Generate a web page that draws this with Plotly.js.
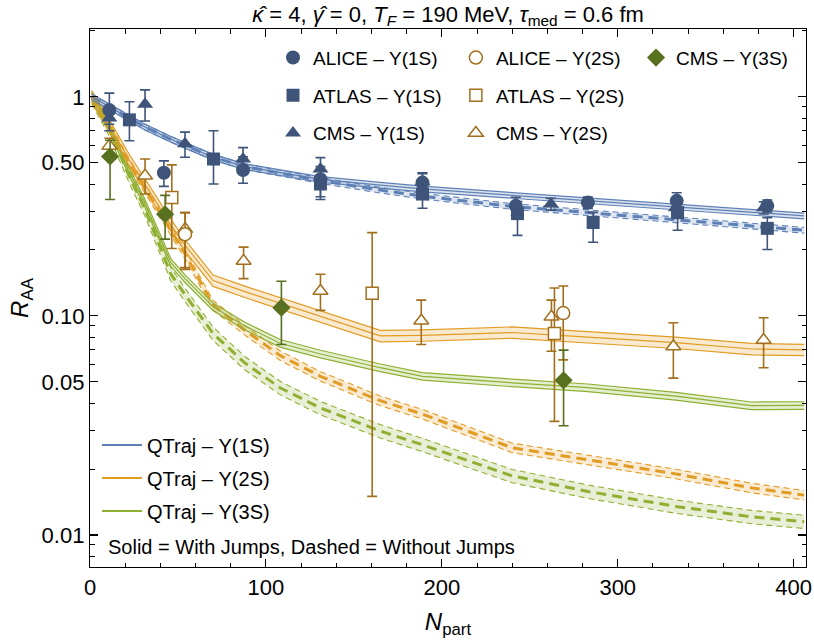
<!DOCTYPE html>
<html><head><meta charset="utf-8">
<script src="https://cdn.plot.ly/plotly-3.0.1.min.js"></script>
<style>html,body{margin:0;padding:0;background:#fff}#plot{width:814px;height:642px}</style>
</head><body><div id="plot"></div>
<script>
// ---------- theory curves (QTraj), shared N_part nodes ----------
const nPart = [1, 11, 22, 31, 46, 54, 70, 88, 108, 131, 165, 189, 240, 283, 333, 376, 406];
const qt1S_jump   = [1.0, 0.90, 0.80, 0.73, 0.64, 0.60, 0.53, 0.48, 0.45, 0.42, 0.395, 0.38, 0.355, 0.335, 0.315, 0.297, 0.286];
const qt1S_nojump = [1.0, 0.90, 0.80, 0.73, 0.64, 0.60, 0.53, 0.48, 0.45, 0.415, 0.375, 0.352, 0.316, 0.296, 0.274, 0.257, 0.246];
const qt2S_jump   = [1.0, 0.74, 0.52, 0.40, 0.26, 0.21, 0.145, 0.129, 0.1145, 0.0995, 0.081, 0.0815, 0.084, 0.080, 0.0755, 0.0706, 0.070];
const qt2S_nojump = [1.0, 0.73, 0.50, 0.385, 0.245, 0.192, 0.112, 0.086, 0.066, 0.053, 0.041, 0.0356, 0.025, 0.022, 0.019, 0.0164, 0.0152];
const qt3S_jump   = [1.0, 0.72, 0.46, 0.33, 0.175, 0.148, 0.110, 0.090, 0.075, 0.067, 0.058, 0.053, 0.0495, 0.047, 0.043, 0.0389, 0.039];
const qt3S_nojump = [1.0, 0.71, 0.44, 0.31, 0.155, 0.125, 0.083, 0.061, 0.047, 0.038, 0.0298, 0.0258, 0.0186, 0.0158, 0.0135, 0.0121, 0.0115];
// relative half-width of each uncertainty band
const bandHalfWidth = {b1j: 0.03, b1n: 0.03, b2j: 0.06, b2n: 0.05, b3j: 0.04, b3n: 0.07};

// ---------- experimental data ----------
const aliceY1S_x = [11, 42, 87, 131, 189, 242, 283, 333.5, 385];
const aliceY1S_y = [0.87, 0.45, 0.463, 0.42, 0.406, 0.318, 0.329, 0.335, 0.318];
const aliceY1S_up = [0.17, 0.06, 0.07, 0.06, 0.04, 0.03, 0.02, 0.03, 0.02];
const aliceY1S_dn = [0.12, 0.06, 0.06, 0.07, 0.05, 0.03, 0.02, 0.03, 0.02];

const atlasY1S_x = [22.4, 70.2, 131, 189, 243, 286, 334, 385];
const atlasY1S_y = [0.785, 0.52, 0.40, 0.36, 0.293, 0.267, 0.296, 0.251];
const atlasY1S_up = [0.165, 0.18, 0.04, 0.05, 0.04, 0.03, 0.03, 0.03];
const atlasY1S_dn = [0.155, 0.12, 0.06, 0.05, 0.06, 0.05, 0.05, 0.05];

const cmsY1S_x = [11, 31.3, 54, 87, 131, 189, 262, 333, 383];
const cmsY1S_y = [0.80, 0.926, 0.61, 0.52, 0.468, 0.41, 0.324, 0.312, 0.312];
const cmsY1S_up = [0.08, 0.15, 0.08, 0.066, 0.06, 0.04, 0.02, 0.02, 0.02];
const cmsY1S_dn = [0.10, 0.15, 0.08, 0.06, 0.05, 0.04, 0.02, 0.02, 0.02];

const aliceY2S_x = [54, 269];
const aliceY2S_y = [0.236, 0.103];
const aliceY2S_up = [0.06, 0.034];
const aliceY2S_dn = [0.07, 0.04];

const atlasY2S_x = [46.5, 160.4, 264];
const atlasY2S_y = [0.347, 0.127, 0.083];
const atlasY2S_up = [0.142, 0.113, 0.051];
const atlasY2S_dn = [0.144, 0.112, 0.05];

const cmsY2S_x = [11, 31.3, 54.1, 87.3, 131, 188.3, 262.3, 331.6, 382.9];
const cmsY2S_y = [0.597, 0.436, 0.249, 0.178, 0.130, 0.095, 0.099, 0.0725, 0.0776];
const cmsY2S_up = [0.05, 0.084, 0.047, 0.028, 0.025, 0.023, 0.019, 0.0205, 0.0204];
const cmsY2S_dn = [0.05, 0.076, 0.086, 0.03, 0.024, 0.021, 0.03, 0.0205, 0.0196];

const cmsY3S_x = [11.4, 42.7, 108.8, 269.2];
const cmsY3S_y = [0.534, 0.291, 0.109, 0.0508];
const cmsY3S_up = [0.1, 0.064, 0.035, 0.019];
const cmsY3S_dn = [0.194, 0.067, 0.035, 0.0193];

// ---------- axis ticks ----------
const xTicks = [0, 100, 200, 300, 400];
const yTicks = [0.01, 0.05, 0.1, 0.5, 1];
const yTickText = ['0.01', '0.05', '0.10', '0.50', '1'];
const yMinor = [0.007, 0.008, 0.009, 0.02, 0.03, 0.04, 0.06, 0.07, 0.08, 0.09, 0.2, 0.3, 0.4, 0.6, 0.7, 0.8, 0.9, 2];

// ---------- styles ----------
const C = {
  blue: '#5E81B5', orange: '#E19C24', green: '#8FB032',
  dBlue: '#3E5479', dOrange: '#A26F1C', dGreen: '#58701F'
};
const FONT = 'Liberation Sans, Arial, sans-serif';

const traces = [];
function band(y, w, color, fill, dashed) {
  const lo = y.map(v => v * (1 - w));
  const hi = y.map(v => v * (1 + w));
  const edge = dashed ? {color, width: 1.1, dash: '6px,4px'} : {color, width: 1.2};
  traces.push({x: nPart, y: lo, mode: 'lines', line: edge, showlegend: false, hoverinfo: 'skip'});
  traces.push({x: nPart, y: hi, mode: 'lines', line: edge, fill: 'tonexty', fillcolor: fill, showlegend: false, hoverinfo: 'skip'});
  traces.push({x: nPart, y: y, mode: 'lines',
    line: dashed ? {color, width: 3, dash: '10px,6px'} : {color, width: 1.2},
    showlegend: false, hoverinfo: 'skip'});
}
band(qt3S_nojump, bandHalfWidth.b3n, C.green, 'rgba(143,176,50,0.2)', true);
band(qt2S_nojump, bandHalfWidth.b2n, C.orange, 'rgba(225,156,36,0.2)', true);
band(qt1S_nojump, bandHalfWidth.b1n, C.blue, 'rgba(94,129,181,0.2)', true);
band(qt3S_jump, bandHalfWidth.b3j, C.green, 'rgba(143,176,50,0.22)', false);
band(qt2S_jump, bandHalfWidth.b2j, C.orange, 'rgba(225,156,36,0.22)', false);
band(qt1S_jump, bandHalfWidth.b1j, C.blue, 'rgba(94,129,181,0.22)', false);

function data(name, x, y, up, dn, symbol, fillColor, lineColor, size, legend, group, rank) {
  traces.push({
    x, y, name, mode: 'markers', legend, legendgroup: group, legendrank: rank,
    marker: {symbol, size, color: fillColor, line: {color: lineColor, width: fillColor === 'white' ? 1.5 : 0}},
    error_y: {type: 'data', symmetric: false, array: up, arrayminus: dn, color: lineColor, thickness: 1.6, width: 5},
    hoverinfo: 'x+y'
  });
}
data('CMS – Υ(2S)', cmsY2S_x, cmsY2S_y, cmsY2S_up, cmsY2S_dn, 'triangle-up', 'white', C.dOrange, 13, 'legend2', 'g6', 3);
data('ATLAS – Υ(2S)', atlasY2S_x, atlasY2S_y, atlasY2S_up, atlasY2S_dn, 'square', 'white', C.dOrange, 12, 'legend2', 'g5', 2);
data('ALICE – Υ(2S)', aliceY2S_x, aliceY2S_y, aliceY2S_up, aliceY2S_dn, 'circle', 'white', C.dOrange, 13, 'legend2', 'g4', 1);
data('CMS – Υ(3S)', cmsY3S_x, cmsY3S_y, cmsY3S_up, cmsY3S_dn, 'diamond', C.dGreen, C.dGreen, 14, 'legend3', 'g7', 1);
data('CMS – Υ(1S)', cmsY1S_x, cmsY1S_y, cmsY1S_up, cmsY1S_dn, 'triangle-up', C.dBlue, C.dBlue, 14, 'legend', 'g3', 3);
data('ATLAS – Υ(1S)', atlasY1S_x, atlasY1S_y, atlasY1S_up, atlasY1S_dn, 'square', C.dBlue, C.dBlue, 13, 'legend', 'g2', 2);
data('ALICE – Υ(1S)', aliceY1S_x, aliceY1S_y, aliceY1S_up, aliceY1S_dn, 'circle', C.dBlue, C.dBlue, 14, 'legend', 'g1', 1);

// legend entries for the theory curves
[['QTraj – Υ(1S)', C.blue, 'q1', 1], ['QTraj – Υ(2S)', C.orange, 'q2', 2], ['QTraj – Υ(3S)', C.green, 'q3', 3]].forEach(([n, c, g, r]) => {
  traces.push({x: [null], y: [null], name: n, mode: 'lines', line: {color: c, width: 2}, legend: 'legend4', legendgroup: g, legendrank: r, showlegend: true});
});

const legendBase = {xanchor: 'left', yanchor: 'top', bgcolor: 'rgba(0,0,0,0)', borderwidth: 0,
  traceorder: 'grouped', font: {family: FONT, size: 19, color: '#000'}, tracegroupgap: 10};

const layout = {
  width: 814, height: 642,
  margin: {l: 90, r: 8, t: 29, b: 75},
  paper_bgcolor: '#fff', plot_bgcolor: '#fff',
  font: {family: FONT, color: '#000'},
  title: {text: '<i>κ̂</i> = 4, <i>γ̂</i> = 0, <i>T</i><sub><i>F</i></sub> = 190 MeV, <i>τ</i><sub>med</sub> = 0.6 fm',
    font: {family: FONT, size: 22, color: '#000'}, xref: 'paper', x: 0.5, xanchor: 'center', yref: 'container', y: 0.978, yanchor: 'middle'},
  showlegend: true,
  xaxis: {range: [0, 407], showline: true, linecolor: '#000', linewidth: 1.2, mirror: 'allticks',
    ticks: 'inside', ticklen: 8, tickwidth: 1.1, tickcolor: '#000', tickmode: 'array', tickvals: xTicks,
    minor: {dtick: 20, ticks: 'inside', ticklen: 4.5, tickwidth: 1, tickcolor: '#000'},
    showgrid: false, zeroline: false, tickfont: {family: FONT, size: 22},
    title: {text: '<i>N</i><sub>part</sub>', font: {family: FONT, size: 24}, standoff: 14}},
  yaxis: {type: 'log', range: [Math.log10(0.00714), Math.log10(2.04)], showline: true, linecolor: '#000', linewidth: 1.2, mirror: 'allticks',
    ticks: 'inside', ticklen: 8, tickwidth: 1.1, tickcolor: '#000', tickmode: 'array', tickvals: yTicks, ticktext: yTickText,
    minor: {tickmode: 'array', tickvals: yMinor, ticks: 'inside', ticklen: 4.5, tickwidth: 1, tickcolor: '#000'},
    showgrid: false, zeroline: false, tickfont: {family: FONT, size: 22},
    title: {text: '<i>R</i><sub>AA</sub>', font: {family: FONT, size: 24}, standoff: 6}},
  legend: Object.assign({}, legendBase, {x: 0.2556, y: 0.982}),
  legend2: Object.assign({}, legendBase, {x: 0.511, y: 0.982}),
  legend3: Object.assign({}, legendBase, {x: 0.7626, y: 0.982}),
  legend4: Object.assign({}, legendBase, {x: 0.0098, y: 0.263, itemwidth: 40, font: {family: FONT, size: 20, color: '#000'}, tracegroupgap: 4}),
  annotations: [{text: 'Solid = With Jumps, Dashed = Without Jumps', xref: 'paper', yref: 'paper', x: 0.0223, y: 0.0377,
    xanchor: 'left', yanchor: 'middle', showarrow: false, font: {family: FONT, size: 20, color: '#000'}}]
};
Plotly.newPlot('plot', traces, layout, {displayModeBar: false, staticPlot: true});
</script></body></html>
